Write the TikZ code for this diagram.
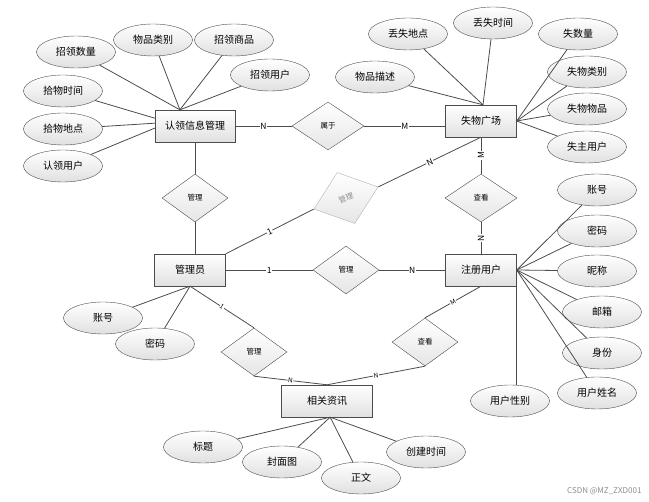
\documentclass[tikz,border=0pt]{standalone}
\usepackage{fontspec}
\setmainfont{Noto Sans CJK SC}
\usepackage{tikz}
\usetikzlibrary{shapes.geometric,calc}
\tikzstyle{entity}  = [rectangle, draw=black!70, minimum width=71pt, minimum height=32pt, inner sep=0pt, top color=white, bottom color=black!12, font=\fontsize{10}{12}\selectfont]
\tikzstyle{attr}    = [ellipse, draw=black!70, minimum width=79pt, minimum height=32pt, inner sep=0pt, top color=white, bottom color=black!12, font=\fontsize{10}{12}\selectfont]
\tikzstyle{rel}     = [diamond, draw=black!70, minimum width=66pt, minimum height=48pt, inner sep=0pt, top color=white, bottom color=black!10, font=\fontsize{7.5}{8}\selectfont]
\tikzstyle{link}    = [draw=black!70, line width=0.8pt]
\tikzstyle{card}    = [fill=white, inner sep=0.6pt, font=\fontsize{8.5}{9}\selectfont]
\tikzstyle{smallcard} = [fill=white, inner sep=0.5pt, font=\fontsize{6.5}{7}\selectfont]

\begin{document}
\begin{tikzpicture}[x=1pt,y=-1pt]
		\useasboundingbox (0,0) rectangle (649,502);

		% entities
		\node[entity, minimum width=80pt] (rlxx) at (195,126) {认领信息管理};
		\node[entity] (swgc) at (481,121) {失物广场};
		\node[entity] (gly) at (190,270) {管理员};
		\node[entity] (zcyh) at (481,270) {注册用户};
		\node[entity, minimum width=91pt] (xgzx) at (327,401) {相关资讯};

		% relations
		\node[rel, minimum width=72pt] (sy) at (328,126) {属于};
		\node[rel] (gl1) at (195,198) {管理};
		\node[rel, minimum width=72pt] (ck1) at (481,198) {查看};
		\node[rel] (gl2) at (346,270) {管理};
		\node[rel, draw=black!30, text=black!45, rotate=19, minimum width=68pt, minimum height=54pt] (gl3) at (346,198) {管理};
		\node[rel] (gl4) at (254,352) {管理};
		\node[rel] (ck2) at (425,342) {查看};

		% attributes of 认领信息管理
		\node[attr] (zlsl) at (76,52) {招领数量};
		\node[attr] (wplb) at (153,40) {物品类别};
		\node[attr] (zlsp) at (234,40) {招领商品};
		\node[attr] (zlyh) at (270,75) {招领用户};
		\node[attr] (swsj) at (63,91) {拾物时间};
		\node[attr] (swdd) at (63,129) {拾物地点};
		\node[attr] (rlyh) at (63,166) {认领用户};

		% attributes of 失物广场
		\node[attr] (dsdd) at (408,34) {丢失地点};
		\node[attr] (dssj) at (493,23) {丢失时间};
		\node[attr] (ssl) at (578,34) {失数量};
		\node[attr] (wpms) at (375,77) {物品描述};
		\node[attr] (swlb) at (587,72) {失物类别};
		\node[attr] (swwp) at (587,109) {失物物品};
		\node[attr] (szyh) at (587,147) {失主用户};

		% attributes of 注册用户
		\node[attr] (zh2) at (597,190) {账号};
		\node[attr] (mm2) at (597,231) {密码};
		\node[attr] (nc) at (597,271) {昵称};
		\node[attr] (yx) at (602,312) {邮箱};
		\node[attr] (sf) at (602,353) {身份};
		\node[attr] (yhxm) at (597,393) {用户姓名};
		\node[attr] (yhxb) at (510,401) {用户性别};

		% attributes of 管理员
		\node[attr] (zh1) at (103,318) {账号};
		\node[attr] (mm1) at (155,344) {密码};

		% attributes of 相关资讯
		\node[attr] (bt) at (203,447) {标题};
		\node[attr] (fmt) at (282,462) {封面图};
		\node[attr] (zw) at (361,478) {正文};
		\node[attr] (cjsj) at (426,452) {创建时间};

		% attribute links
		\foreach \a in {zlsl,wplb,zlsp,zlyh}
			\draw[link] (rlxx.133) -- (\a);
		\draw[link] (rlxx.169) -- (swsj);
		\draw[link] (rlxx.176) -- (swdd);
		\draw[link] (rlxx.183) -- (rlyh);
		\foreach \a in {dsdd,dssj,wpms}
			\draw[link] (swgc.83) -- (\a);
		\foreach \a in {ssl,swlb,swwp,szyh}
			\draw[link] (swgc.east) -- (\a);
		\foreach \a in {zh2,mm2,nc,yx,sf,yhxm}
			\draw[link] (zcyh.east) -- (\a);
		\draw[link] (zcyh.east) -- (yhxb.north -| zcyh.east);
		\foreach \a in {zh1,mm1}
			\draw[link] (gly.south) -- (\a);
		\foreach \a in {bt,fmt,zw,cjsj}
			\draw[link] (xgzx.-79) -- (\a);

		% relation links
		\draw[link] (rlxx.east) -- node[card]{N} (sy.west);
		\draw[link] (sy.east) -- node[card]{M} (swgc.west |- sy.east);
		\draw[link] (swgc.south) -- node[card, rotate=90]{M} (ck1.north);
		\draw[link] (ck1.south) -- node[card, rotate=90]{N} (zcyh.north);
		\draw[link] (gly.east) -- node[card]{1} (gl2.west);
		\draw[link] (gl2.east) -- node[card]{N} (zcyh.west);
		\draw[link] (rlxx.south) -- (gl1.north);
		\draw[link] (gl1.south) -- (gl1.south |- gly.north);
		\draw[link] (gly.north east) -- node[card, sloped]{1} (gl3.west);
		\draw[link] (gl3.east) -- node[card, sloped]{N} (swgc.south);
		\draw[link] (gly.south) -- node[smallcard, sloped]{1} (gl4.north);
		\draw[link] (gl4.south) -- node[smallcard, sloped]{N} (xgzx.north);
		\draw[link] (ck2.south) -- node[smallcard, sloped]{N} (xgzx.north);
		\draw[link] (zcyh.south) -- node[smallcard, sloped]{M} (ck2.north);

		\node[text=black!45, font=\fontsize{8}{9}\selectfont, anchor=east] (wm) at (645,491) {CSDN @MZ\_ZXD001};
	\end{tikzpicture}
\end{document}
